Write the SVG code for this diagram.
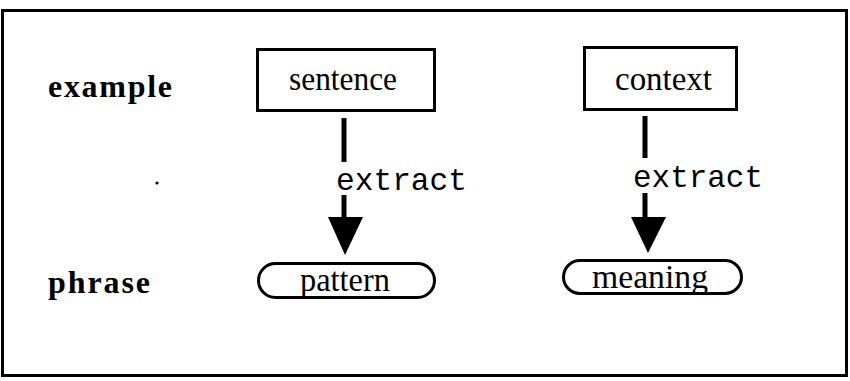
<svg xmlns="http://www.w3.org/2000/svg" width="850" height="381" viewBox="0 0 850 381">
  <defs>
    <style>
      .frame { fill: none; stroke: #000; stroke-width: 3; }
      .box { fill: #fff; stroke: #000; stroke-width: 3; }
      .lbl { font-family: "Liberation Serif", "Times New Roman", serif; font-weight: bold; font-size: 32px; fill: #000; }
      .node { font-family: "Liberation Serif", "Times New Roman", serif; font-size: 34px; fill: #000; }
      .edge { font-family: "Liberation Mono", "Courier New", monospace; font-size: 32px; fill: #000; }
      .stem { stroke: #000; stroke-width: 5; fill: none; }
      .head { fill: #000; stroke: none; }
    </style>
  </defs>
  <rect width="850" height="381" fill="#fff"/>

  <!-- outer frame -->
  <rect class="frame" x="2.5" y="10.5" width="844" height="365"/>

  <!-- row labels -->
  <text class="lbl" x="48" y="97" textLength="124" lengthAdjust="spacing">example</text>
  <text class="lbl" x="48" y="293" textLength="102" lengthAdjust="spacing">phrase</text>
  <circle cx="157" cy="183" r="1.6" fill="#000"/>

  <!-- nodes -->
  <g id="sentence">
    <rect class="box" x="257.5" y="49.5" width="177" height="61"/>
    <text class="node" x="289" y="90" textLength="108" lengthAdjust="spacingAndGlyphs">sentence</text>
  </g>
  <g id="context">
    <rect class="box" x="584.5" y="47.5" width="152" height="62"/>
    <text class="node" x="615" y="90" textLength="97" lengthAdjust="spacingAndGlyphs">context</text>
  </g>
  <g id="pattern">
    <rect class="box" x="258.5" y="263.5" width="176" height="34" rx="17" ry="17"/>
    <text class="node" x="300" y="291" textLength="90" lengthAdjust="spacingAndGlyphs">pattern</text>
  </g>
  <g id="meaning">
    <rect class="box" x="563.5" y="260.5" width="178" height="33" rx="16.5" ry="16.5"/>
    <text class="node" x="592" y="288" textLength="116" lengthAdjust="spacingAndGlyphs">meaning</text>
  </g>

  <!-- connectors -->
  <g id="connectors">
    <g id="sentence-pattern">
      <line class="stem" x1="344" y1="118" x2="344" y2="162"/>
      <line class="stem" x1="344" y1="195" x2="344" y2="219"/>
      <polygon class="head" points="328,217 363,217 345,255"/>
      <text class="edge" x="336" y="190" textLength="131" lengthAdjust="spacingAndGlyphs">extract</text>
    </g>
    <g id="context-meaning">
      <line class="stem" x1="645" y1="116" x2="645" y2="158"/>
      <line class="stem" x1="645" y1="193" x2="645" y2="219"/>
      <polygon class="head" points="631,217 666,217 648,253"/>
      <text class="edge" x="633" y="187" textLength="130" lengthAdjust="spacingAndGlyphs">extract</text>
    </g>
  </g>
</svg>
